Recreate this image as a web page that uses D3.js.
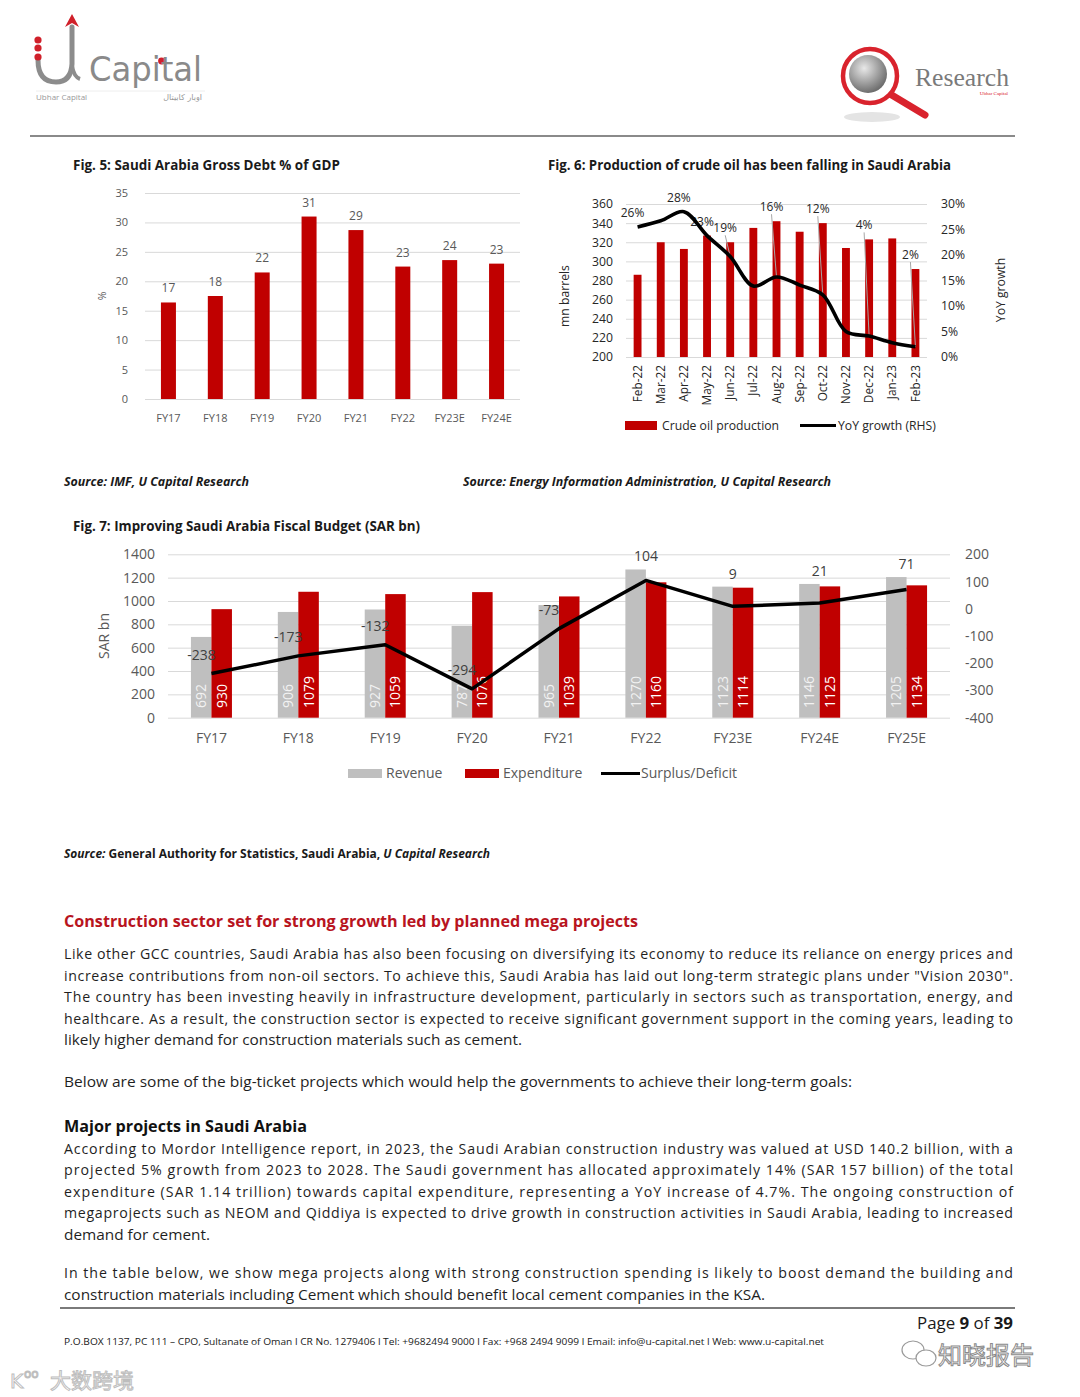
<!DOCTYPE html>
<html><head><meta charset="utf-8">
<script src="https://cdn.jsdelivr.net/npm/d3@7/dist/d3.min.js"></script>
<style>body{margin:0;background:#fff}svg{display:block}</style>
</head><body>
<svg id="page" width="1080" height="1397"></svg>
<script>
// ---------- DATA ----------
const debtYears = ["FY17","FY18","FY19","FY20","FY21","FY22","FY23E","FY24E"];
const debtPct = [16.4,17.5,21.5,31.0,28.7,22.5,23.6,23.0];
const debtLabels = ["17","18","22","31","29","23","24","23"];
const debtTicks = [0,5,10,15,20,25,30,35];

const oilMonths = ["Feb-22","Mar-22","Apr-22","May-22","Jun-22","Jul-22","Aug-22","Sep-22","Oct-22","Nov-22","Dec-22","Jan-23","Feb-23"];
const oilProduction = [286,320,313,327,320,335,342,331,340,314,323,324,292];
const oilYoY = [0.255,0.267,0.285,0.238,0.197,0.139,0.157,0.141,0.122,0.050,0.041,0.028,0.020];
const oilYoYLabels = ["26%","","28%","23%","19%","","16%","","12%","","4%","","2%"];
const oilTicks = [200,220,240,260,280,300,320,340,360];
const yoyTicks = [0,0.05,0.10,0.15,0.20,0.25,0.30];

const budgetYears = ["FY17","FY18","FY19","FY20","FY21","FY22","FY23E","FY24E","FY25E"];
const revenue = [692,906,927,787,965,1270,1123,1146,1205];
const expenditure = [930,1079,1059,1076,1039,1160,1114,1125,1134];
const balance = [-238,-173,-132,-294,-73,104,9,21,71];
const budgetTicks = [0,200,400,600,800,1000,1200,1400];
const balanceTicks = [-400,-300,-200,-100,0,100,200];

// ---------- HELPERS ----------
const svg = d3.select("#page");
const FONT = "'Open Sans', 'Noto Sans', sans-serif";
const GREY = "#595959", RED = "#C00000", LGREY = "#BFBFBF", GRID = "#D9D9D9";
const plain = d => String(d).replace("\u2212","-");
function fitG(sel, w){
  const L = sel.node().getComputedTextLength();
  if (Math.abs(L - w) > 0.5) sel.attr("textLength", w).attr("lengthAdjust", "spacingAndGlyphs");
  return sel;
}
function txt(x, y, s, o = {}){
  const t = svg.append("text").attr("x", x).attr("y", y).text(s)
    .attr("font-family", o.family || FONT).attr("font-size", o.size || 14)
    .attr("font-weight", o.weight || "normal").attr("font-style", o.style || "normal")
    .attr("fill", o.fill || "#1a1a1a");
  if (o.anchor) t.attr("text-anchor", o.anchor);
  return t;
}

// ---------- HEADER ----------
const logo = svg.append("g");
logo.append("path").attr("d","M38 60 Q38 82 56 82 Q71 82 72 64 L72 27").attr("fill","none").attr("stroke","#8c8c8c").attr("stroke-width",5).attr("stroke-linecap","round");
logo.append("path").attr("d","M72 66 Q74 77 80 79").attr("fill","none").attr("stroke","#8c8c8c").attr("stroke-width",4);
logo.append("path").attr("d","M72 14 L79 27 L72 23 L65 27 Z").attr("fill","#d0202a");
[40,48,57].forEach(y=>logo.append("circle").attr("cx",38).attr("cy",y).attr("r",3.6).attr("fill","#d0202a"));
fitG(txt(89, 81, "Capital", {size:34, fill:"#8a8a8a", family:"'DejaVu Sans', sans-serif"}), 113);
logo.append("circle").attr("cx",161.5).attr("cy",61).attr("r",3.4).attr("fill","#d0202a");
svg.append("line").attr("x1",36).attr("x2",205).attr("y1",91).attr("y2",91).attr("stroke","#eeeeee");
txt(36, 100, "Ubhar Capital", {size:8, fill:"#999"});
txt(202, 100, "اوبار كابيتال", {size:8, fill:"#999", anchor:"end", family:"'DejaVu Sans', sans-serif"});

const rl = svg.append("g");
const grad = svg.append("defs").append("radialGradient").attr("id","sph").attr("cx","40%").attr("cy","35%").attr("r","65%");
grad.append("stop").attr("offset","0%").attr("stop-color","#e8e8e8");
grad.append("stop").attr("offset","100%").attr("stop-color","#6e6e6e");
rl.append("ellipse").attr("cx",872).attr("cy",117).attr("rx",28).attr("ry",5).attr("fill","#e4e4e4");
rl.append("line").attr("x1",890).attr("y1",94).attr("x2",925).attr("y2",115).attr("stroke","#d9232d").attr("stroke-width",7).attr("stroke-linecap","round");
rl.append("circle").attr("cx",870).attr("cy",76).attr("r",27).attr("fill","#fff").attr("stroke","#d9232d").attr("stroke-width",4.5);
rl.append("circle").attr("cx",868).attr("cy",74).attr("r",19).attr("fill","url(#sph)");
fitG(txt(915, 86, "Research", {size:26, fill:"#7a7a7a", family:"'Liberation Serif', serif"}), 94);
txt(1008, 95, "Ubhar Capital", {size:5, fill:"#d9232d", anchor:"end", family:"'Liberation Serif', serif"});
svg.append("line").attr("x1",30).attr("x2",1015).attr("y1",136).attr("y2",136).attr("stroke","#8a8a8a").attr("stroke-width",1.8);

// ---------- FIG 5 ----------
fitG(txt(73, 170, "Fig. 5: Saudi Arabia Gross Debt % of GDP", {size:13.5, weight:"bold"}), 267);
{
  const g = svg.append("g").attr("font-family", FONT);
  const x = d3.scaleBand().domain(debtYears).range([145,520]).paddingInner(0.68).paddingOuter(0.34);
  const y = d3.scaleLinear().domain([0,35]).range([399,193]);
  const ya = g.append("g").attr("transform","translate(145,0)")
    .call(d3.axisLeft(y).tickValues(debtTicks).tickSize(-375).tickPadding(17).tickFormat(plain));
  ya.select(".domain").remove();
  ya.selectAll(".tick line").attr("stroke", GRID);
  ya.selectAll("text").attr("fill", GREY).attr("font-size", 11).attr("font-family", FONT);
  const xa = g.append("g").attr("transform","translate(0,399)").call(d3.axisBottom(x).tickSize(0).tickPadding(15));
  xa.select(".domain").remove();
  xa.selectAll("text").attr("fill", GREY).attr("font-size", 11).attr("font-family", FONT);
  g.selectAll("rect.bar").data(debtPct).join("rect").attr("class","bar")
    .attr("x",(d,i)=>x(debtYears[i])).attr("width",x.bandwidth())
    .attr("y",d=>y(d)).attr("height",d=>y(0)-y(d)).attr("fill",RED);
  g.selectAll("text.val").data(debtPct).join("text").attr("class","val")
    .attr("x",(d,i)=>x(debtYears[i])+x.bandwidth()/2).attr("y",d=>y(d)-10)
    .attr("text-anchor","middle").attr("font-size",12).attr("fill",GREY).text((d,i)=>debtLabels[i]);
  g.append("text").attr("transform","translate(106,296) rotate(-90)").attr("text-anchor","middle")
    .attr("font-size",10.5).attr("fill",GREY).text("%");
}

// ---------- FIG 6 ----------
fitG(txt(548, 170, "Fig. 6: Production of crude oil has been falling in Saudi Arabia", {size:13.5, weight:"bold"}), 403);
{
  const g = svg.append("g").attr("font-family", FONT);
  const T6 = "#262626";
  const x = d3.scaleBand().domain(oilMonths).range([626,927]).paddingInner(0.66).paddingOuter(0.33);
  const yL = d3.scaleLinear().domain([200,360]).range([357,204]);
  const yR = d3.scaleLinear().domain([0,0.30]).range([357,204]);
  const ya = g.append("g").attr("transform","translate(626,0)")
    .call(d3.axisLeft(yL).tickValues(oilTicks).tickSize(-301).tickPadding(13));
  ya.select(".domain").remove();
  ya.selectAll(".tick line").attr("stroke", GRID);
  ya.selectAll("text").attr("fill", T6).attr("font-size", 12.2).attr("font-family", FONT);
  const yr = g.append("g").attr("transform","translate(927,0)")
    .call(d3.axisRight(yR).tickValues(yoyTicks).tickSize(0).tickPadding(14).tickFormat(d3.format(".0%")));
  yr.select(".domain").remove();
  yr.selectAll("text").attr("fill", T6).attr("font-size", 12.2).attr("font-family", FONT);
  const xa = g.append("g").attr("transform","translate(0,357)").call(d3.axisBottom(x).tickSize(0));
  xa.select(".domain").remove();
  xa.selectAll("text").attr("fill", T6).attr("font-size", 11.8).attr("font-family", FONT)
    .attr("transform","rotate(-90)").attr("x",-8).attr("y",0).attr("dy","0.35em").attr("text-anchor","end");
  g.selectAll("rect.bar").data(oilProduction).join("rect").attr("class","bar")
    .attr("x",(d,i)=>x(oilMonths[i])).attr("width",x.bandwidth())
    .attr("y",d=>yL(d)).attr("height",d=>yL(200)-yL(d)).attr("fill",RED);
  const cx = i => x(oilMonths[i]) + x.bandwidth()/2;
  const line = d3.line().x((d,i)=>cx(i)).y(d=>yR(d)).curve(d3.curveCatmullRom.alpha(0.5));
  oilYoYLabels.forEach((lab,i)=>{
    if(!lab) return;
    const py = yR(oilYoY[i]);
    const ly = Math.min(py, yL(oilProduction[i])) - 10;
    const lx = cx(i) - 5;
    if (py - ly > 16) g.append("line").attr("x1",lx).attr("y1",ly+3).attr("x2",cx(i)).attr("y2",py)
      .attr("stroke","#A6A6A6").attr("stroke-width",1);
    g.append("text").attr("x",lx).attr("y",ly).attr("text-anchor","middle").attr("font-size",12).attr("fill",T6).text(lab);
  });
  g.append("path").datum(oilYoY).attr("d",line).attr("fill","none").attr("stroke","#000").attr("stroke-width",3.6);
  g.append("text").attr("transform","translate(569,296) rotate(-90)").attr("text-anchor","middle")
    .attr("font-size",12.2).attr("fill",T6).text("mn barrels");
  g.append("text").attr("transform","translate(1005,290) rotate(-90)").attr("text-anchor","middle")
    .attr("font-size",12.2).attr("fill",T6).text("YoY growth");
  g.append("rect").attr("x",625).attr("y",421).attr("width",32).attr("height",9).attr("fill",RED);
  g.append("text").attr("x",662).attr("y",430).attr("font-size",12.2).attr("fill",T6).text("Crude oil production");
  g.append("line").attr("x1",800).attr("x2",836).attr("y1",425.5).attr("y2",425.5).attr("stroke","#000").attr("stroke-width",3);
  g.append("text").attr("x",838).attr("y",430).attr("font-size",12.2).attr("fill",T6).text("YoY growth (RHS)");
}

// ---------- SOURCES ----------
fitG(txt(64, 486, "Source: IMF, U Capital Research", {size:12, weight:"bold", style:"italic"}), 185);
fitG(txt(463, 486, "Source: Energy Information Administration, U Capital Research", {size:12, weight:"bold", style:"italic"}), 368);

// ---------- FIG 7 ----------
fitG(txt(73, 531, "Fig. 7: Improving Saudi Arabia Fiscal Budget (SAR bn)", {size:13.5, weight:"bold"}), 347);
{
  const g = svg.append("g").attr("font-family", FONT);
  const x0 = d3.scaleBand().domain(budgetYears).range([168,950]).paddingInner(0.528).paddingOuter(0.264);
  const x1 = d3.scaleBand().domain(["Revenue","Expenditure"]).range([0, x0.bandwidth()]);
  const yL = d3.scaleLinear().domain([0,1400]).range([717.7,554.3]);
  const yR = d3.scaleLinear().domain([-400,200]).range([717.7,554.3]);
  const ya = g.append("g").attr("transform","translate(168,0)")
    .call(d3.axisLeft(yL).tickValues(budgetTicks).tickSize(-782).tickPadding(13).tickFormat(plain));
  ya.select(".domain").remove();
  ya.selectAll(".tick line").attr("stroke", GRID);
  ya.selectAll("text").attr("fill", GREY).attr("font-size", 14).attr("font-family", FONT);
  const yr = g.append("g").attr("transform","translate(950,0)")
    .call(d3.axisRight(yR).tickValues(balanceTicks).tickSize(0).tickPadding(15).tickFormat(plain));
  yr.select(".domain").remove();
  yr.selectAll("text").attr("fill", GREY).attr("font-size", 14).attr("font-family", FONT);
  const xa = g.append("g").attr("transform","translate(0,717.7)").call(d3.axisBottom(x0).tickSize(0).tickPadding(15));
  xa.select(".domain").remove();
  xa.selectAll("text").attr("fill", GREY).attr("font-size", 14).attr("font-family", FONT);

  const series = [{k:"Revenue", v:revenue, c:LGREY, t:"#F2F2F2"},{k:"Expenditure", v:expenditure, c:RED, t:"#FFFFFF"}];
  series.forEach(s=>{
    g.selectAll(null).data(s.v).join("rect")
      .attr("x",(d,i)=>x0(budgetYears[i])+x1(s.k)).attr("width",x1.bandwidth())
      .attr("y",d=>yL(d)).attr("height",d=>yL(0)-yL(d)).attr("fill",s.c);
    g.selectAll(null).data(s.v).join("text")
      .attr("transform",(d,i)=>`translate(${x0(budgetYears[i])+x1(s.k)+x1.bandwidth()/2+5},708) rotate(-90)`)
      .attr("font-size",14).attr("fill",s.t).text(d=>d);
  });
  const cx = i => x0(budgetYears[i]) + x0.bandwidth()/2;
  g.selectAll("text.bal").data(balance).join("text").attr("class","bal")
    .attr("x",(d,i)=>cx(i) - (d < 0 ? 10 : 0))
    .attr("y",(d,i)=> d>=0 ? Math.min(yR(d), yL(Math.max(revenue[i],expenditure[i]))) - 8 : yR(d) - 14)
    .attr("text-anchor","middle").attr("font-size",14).attr("fill","#404040").text(d=>d);
  const line = d3.line().x((d,i)=>cx(i)).y(d=>yR(d));
  g.append("path").datum(balance).attr("d",line).attr("fill","none").attr("stroke","#000").attr("stroke-width",3.5).attr("stroke-linejoin","round");
  g.append("text").attr("transform","translate(109,636) rotate(-90)").attr("text-anchor","middle")
    .attr("font-size",14).attr("fill",GREY).text("SAR bn");
  g.append("rect").attr("x",348).attr("y",769).attr("width",34).attr("height",9).attr("fill",LGREY);
  g.append("text").attr("x",386).attr("y",778).attr("font-size",14).attr("fill",GREY).text("Revenue");
  g.append("rect").attr("x",465).attr("y",769).attr("width",34).attr("height",9).attr("fill",RED);
  g.append("text").attr("x",503).attr("y",778).attr("font-size",14).attr("fill",GREY).text("Expenditure");
  g.append("line").attr("x1",601).attr("x2",640).attr("y1",773.5).attr("y2",773.5).attr("stroke","#000").attr("stroke-width",3);
  g.append("text").attr("x",641).attr("y",778).attr("font-size",14).attr("fill",GREY).text("Surplus/Deficit");
}

{
  const t = svg.append("text").attr("x",64).attr("y",858).attr("font-family",FONT).attr("font-size",12).attr("font-weight","bold").attr("fill","#1a1a1a");
  t.append("tspan").attr("font-style","italic").text("Source: ");
  t.append("tspan").text("General Authority for Statistics, Saudi Arabia, ");
  t.append("tspan").attr("font-style","italic").text("U Capital Research");
  fitG(t, 426);
}

// ---------- BODY TEXT ----------
fitG(txt(64, 927, "Construction sector set for strong growth led by planned mega projects", {size:16.5, weight:"bold", fill:"#B8141E"}), 574);
const bodyLines = [
  ["Like other GCC countries, Saudi Arabia has also been focusing on diversifying its economy to reduce its reliance on energy prices and", 959, 1013],
  ["increase contributions from non-oil sectors. To achieve this, Saudi Arabia has laid out long-term strategic plans under \"Vision 2030\".", 980.5, 1013],
  ["The country has been investing heavily in infrastructure development, particularly in sectors such as transportation, energy, and", 1002, 1013],
  ["healthcare. As a result, the construction sector is expected to receive significant government support in the coming years, leading to", 1023.5, 1013],
  ["likely higher demand for construction materials such as cement.", 1045, 522],
  ["Below are some of the big-ticket projects which would help the governments to achieve their long-term goals:", 1087, 852],
  ["According to Mordor Intelligence report, in 2023, the Saudi Arabian construction industry was valued at USD 140.2 billion, with a", 1153.5, 1013],
  ["projected 5% growth from 2023 to 2028. The Saudi government has allocated approximately 14% (SAR 157 billion) of the total", 1175, 1013],
  ["expenditure (SAR 1.14 trillion) towards capital expenditure, representing a YoY increase of 4.7%. The ongoing construction of", 1196.5, 1013],
  ["megaprojects such as NEOM and Qiddiya is expected to drive growth in construction activities in Saudi Arabia, leading to increased", 1218, 1013],
  ["demand for cement.", 1239.5, 210],
  ["In the table below, we show mega projects along with strong construction spending is likely to boost demand the building and", 1278, 1013],
  ["construction materials including Cement which should benefit local cement companies in the KSA.", 1299.5, 765]
];
bodyLines.forEach(([s,y,end])=>{
  const t = txt(64, y, s, {size:14.2, fill:"#1f1f1f"});
  const L = t.node().getComputedTextLength(), w = end - 64;
  t.attr("textLength", w).attr("lengthAdjust", (end===1013 && L < w) ? "spacing" : "spacingAndGlyphs");
});
fitG(txt(64, 1132, "Major projects in Saudi Arabia", {size:16.5, weight:"bold", fill:"#111"}), 243);

// ---------- FOOTER ----------
svg.append("line").attr("x1",60).attr("x2",1015).attr("y1",1308).attr("y2",1308).attr("stroke","#7a7a7a").attr("stroke-width",1.8);
{
  const t = svg.append("text").attr("x",917).attr("y",1329).attr("font-family",FONT).attr("font-size",16).attr("fill","#1a1a1a");
  t.append("tspan").text("Page ");
  t.append("tspan").attr("font-weight","bold").text("9");
  t.append("tspan").text(" of ");
  t.append("tspan").attr("font-weight","bold").text("39");
  fitG(t, 96);
}
fitG(txt(64, 1345, "P.O.BOX 1137, PC 111 – CPO, Sultanate of Oman l CR No. 1279406 l Tel: +9682494 9000 l Fax: +968 2494 9099 l Email: info@u-capital.net l Web: www.u-capital.net", {size:9, fill:"#1a1a1a"}), 760);

{
  const w = svg.append("g").attr("fill","none").attr("stroke","#9a9a9a").attr("stroke-width",1.2);
  w.append("ellipse").attr("cx",913).attr("cy",1350).attr("rx",11).attr("ry",9);
  w.append("ellipse").attr("cx",926).attr("cy",1358).attr("rx",10).attr("ry",8).attr("fill","#fff");
  svg.append("text").attr("x",938).attr("y",1364).attr("font-family","'Noto Sans CJK SC', sans-serif").attr("font-size",24)
    .attr("fill","#fff").attr("stroke","#8a8a8a").attr("stroke-width",1).text("知晓报告");
  svg.append("text").attr("x",10).attr("y",1388).attr("font-family","'DejaVu Sans', sans-serif").attr("font-size",20)
    .attr("fill","#fff").attr("stroke","#bdbdbd").attr("stroke-width",1).text("K");
  svg.append("text").attr("x",24).attr("y",1378).attr("font-family","'DejaVu Sans', sans-serif").attr("font-size",12)
    .attr("fill","#fff").attr("stroke","#bdbdbd").attr("stroke-width",1).text("oo");
  svg.append("text").attr("x",50).attr("y",1388).attr("font-family","'Noto Sans CJK SC', sans-serif").attr("font-size",21)
    .attr("fill","#fff").attr("stroke","#bdbdbd").attr("stroke-width",1).text("大数跨境");
}
</script>
</body></html>
